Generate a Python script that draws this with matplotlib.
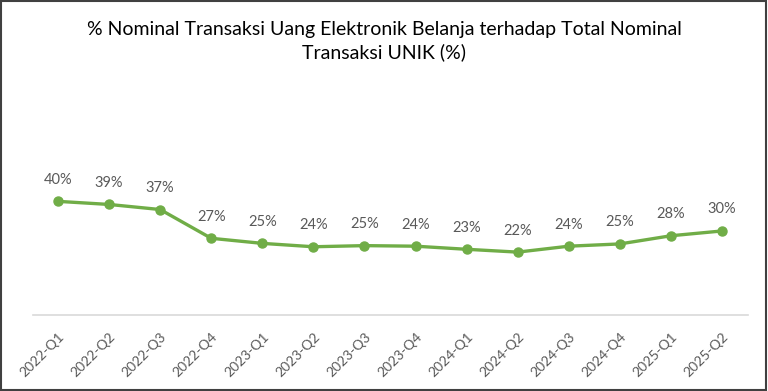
import matplotlib

matplotlib.use("Agg")
import matplotlib.pyplot as plt
from matplotlib.patches import Rectangle

quarters = [
    "2022-Q1", "2022-Q2", "2022-Q3", "2022-Q4",
    "2023-Q1", "2023-Q2", "2023-Q3", "2023-Q4",
    "2024-Q1", "2024-Q2", "2024-Q3", "2024-Q4",
    "2025-Q1", "2025-Q2",
]
share_pct = [40.3, 39.2, 37.4, 27.2, 25.4, 24.2, 24.6, 24.4, 23.3, 22.3, 24.4, 25.2, 28.1, 29.8]

green = "#70AD47"
gray = "#595959"

plt.rcParams["font.family"] = ["Lato", "DejaVu Sans"]

fig = plt.figure(figsize=(7.68, 3.91), dpi=100)
ax = fig.add_axes([32.5 / 768, 1 - 315 / 391, 715 / 768, 169.2 / 391])

x = list(range(len(quarters)))
ax.plot(x, share_pct, color=green, lw=2.4, marker="o", ms=6.5, solid_capstyle="round")
for xi, v in zip(x, share_pct):
    ax.annotate(f"{v:.0f}%", (xi, v), xytext=(0, 15.5), textcoords="offset points",
                ha="center", va="center", fontsize=10.5, color=gray)

ax.set_xlim(-0.5, len(quarters) - 0.5)
ax.set_ylim(0, 60)
ax.set_yticks([])
ax.set_xticks(x)
ax.set_xticklabels(quarters, rotation=45, ha="right", rotation_mode="anchor",
                   fontsize=10, color=gray)
ax.tick_params(axis="x", length=0, pad=11)
for side in ["top", "right", "left"]:
    ax.spines[side].set_visible(False)
ax.spines["bottom"].set_color("#D9D9D9")
ax.spines["bottom"].set_linewidth(1.2)

fig.text(0.5, 1 - 41 / 391,
         "% Nominal Transaksi Uang Elektronik Belanja terhadap Total Nominal\nTransaksi UNIK (%)",
         ha="center", va="center", fontsize=14, color="black", linespacing=1.35)

fig.patches.append(Rectangle((0.001, 0.002), 0.997, 0.996, transform=fig.transFigure,
                             fill=False, edgecolor="#404040", lw=1.5))

fig.savefig("out.png", dpi=100)
